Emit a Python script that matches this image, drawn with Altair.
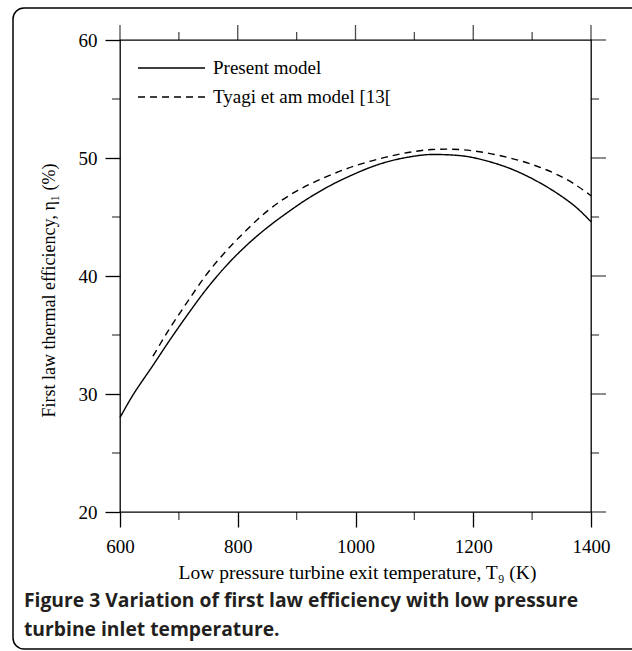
import altair as alt
import pandas as pd

# ---- data ----
present_x = [600, 617, 657, 685, 713, 747, 781, 815, 850, 885, 911, 951, 996, 1042,
             1087, 1132, 1178, 1223, 1268, 1313, 1353, 1373, 1400]
present_y = [28.0, 29.5, 32.5, 34.6, 36.6, 38.9, 40.9, 42.6, 44.1, 45.4, 46.3, 47.5,
             48.6, 49.5, 50.05, 50.3, 50.2, 49.75, 49.0, 47.9, 46.65, 45.9, 44.6]
tyagi_x = [656, 685, 713, 745, 780, 815, 850, 900, 950, 1000, 1050, 1100, 1130, 1160,
           1200, 1250, 1300, 1340, 1370, 1400]
tyagi_y = [33.2, 35.6, 37.7, 40.0, 42.1, 43.9, 45.5, 47.2, 48.4, 49.35, 50.05, 50.55,
           50.72, 50.75, 50.6, 50.15, 49.45, 48.65, 47.85, 46.8]
series_names = ["Present model", "Tyagi et am model [13["]

x_major = [600, 800, 1000, 1200, 1400]
x_minor = [700, 900, 1100, 1300]
y_major = [20, 30, 40, 50, 60]
y_minor = [25, 35, 45, 55]

x_title = "Low pressure turbine exit temperature, T\u2089 (K)"
y_title = "First law thermal efficiency, \u03b7\u2081 (%)"
caption_lines = ["Figure 3 Variation of first law efficiency with low pressure",
                 "turbine inlet temperature."]

df = pd.concat([
    pd.DataFrame({"T": present_x, "eta": present_y, "series": series_names[0]}),
    pd.DataFrame({"T": tyagi_x, "eta": tyagi_y, "series": series_names[1]}),
])
xmaj = pd.DataFrame({"T": x_major})
xmin = pd.DataFrame({"T": x_minor})
ymaj = pd.DataFrame({"eta": y_major})
ymin = pd.DataFrame({"eta": y_minor})

SERIF = "Liberation Serif"
W, H = 471, 472
LW = 1.3
DASHES = [[1, 0], [7, 5]]
xs = alt.Scale(domain=[600, 1400], nice=False, zero=False)
ys = alt.Scale(domain=[20, 60], nice=False, zero=False)

base_axis = dict(domain=False, tickColor="black", tickWidth=LW, tickSize=15,
                 grid=False, labelFont=SERIF, labelFontSize=19, labelColor="black",
                 labelFlush=False, labelOverlap=False, format="d",
                 titleFont=SERIF, titleColor="black", titleFontWeight="normal")

lines = alt.Chart(df).mark_line(strokeWidth=1.4, color="black", interpolate="monotone").encode(
    x=alt.X("T:Q", scale=xs, axis=alt.Axis(
        orient="bottom", values=x_major, labelPadding=10, titleFontSize=19.5,
        title=x_title, titleX=237, titleY=60, titleBaseline="middle", titleAlign="center",
        **base_axis)),
    y=alt.Y("eta:Q", scale=ys, axis=alt.Axis(
        orient="left", values=y_major, labelPadding=8, titleFontSize=18,
        title=y_title, titleX=-71, titleY=250, titleAngle=270, titleBaseline="middle",
        titleAlign="center", **base_axis)),
    strokeDash=alt.StrokeDash("series:N", scale=alt.Scale(domain=series_names, range=DASHES),
                              legend=None),
)

# extra tick marks (top/right major, all minor) drawn through the shared scales
def vtick(data, size, yoff):
    return alt.Chart(data).mark_tick(size=size, thickness=LW, color="black",
                                     orient="vertical").encode(
        x=alt.X("T:Q", scale=xs), y=alt.value(yoff))


def htick(data, size, xoff):
    return alt.Chart(data).mark_tick(size=size, thickness=LW, color="black",
                                     orient="horizontal").encode(
        y=alt.Y("eta:Q", scale=ys), x=alt.value(xoff))


ticks = [vtick(xmaj, 15, -7.5), vtick(xmin, 8, -4), vtick(xmin, 8, H + 4),
         htick(ymaj, 15, W + 7.5), htick(ymin, 8, W + 4), htick(ymin, 8, -4)]

# legend (manual, laid out like the reference)
legend_layers = []
for i, name in enumerate(series_names):
    ly = 28 + 29 * i
    legend_layers.append(alt.Chart(alt.Data(values=[{"s": name}])).mark_rule(
        color="black", strokeWidth=1.4, strokeDash=DASHES[i]
    ).encode(x=alt.value(18), x2=alt.value(85), y=alt.value(ly)))
    legend_layers.append(alt.Chart(alt.Data(values=[{"s": name}])).mark_text(
        align="left", baseline="middle", font=SERIF, fontSize=19, color="black"
    ).encode(x=alt.value(93), y=alt.value(ly), text="s:N"))

border = alt.Chart(alt.Data(values=[{}])).mark_rect(
    fillOpacity=0, stroke="black", strokeWidth=1.5, cornerRadius=11
).encode(x=alt.value(-107), x2=alt.value(540), y=alt.value(-32), y2=alt.value(609))

caption = alt.Chart(alt.Data(values=[{}])).mark_text(
    align="left", baseline="alphabetic", font="Open Sans", fontSize=19.3,
    fontWeight="bold", color="#231f20", lineHeight=29
).encode(x=alt.value(-96), y=alt.value(567), text=alt.value(caption_lines))

chart = alt.layer(lines, *ticks, *legend_layers, border, caption).properties(
    width=W, height=H,
    background="white",
    autosize=alt.AutoSizeParams(type="none"),
    padding={"left": 120, "top": 40, "right": 41, "bottom": 139},
).configure_view(stroke="black", strokeWidth=LW)

chart.save("out.html", embed_options={"renderer": "svg", "actions": False})
